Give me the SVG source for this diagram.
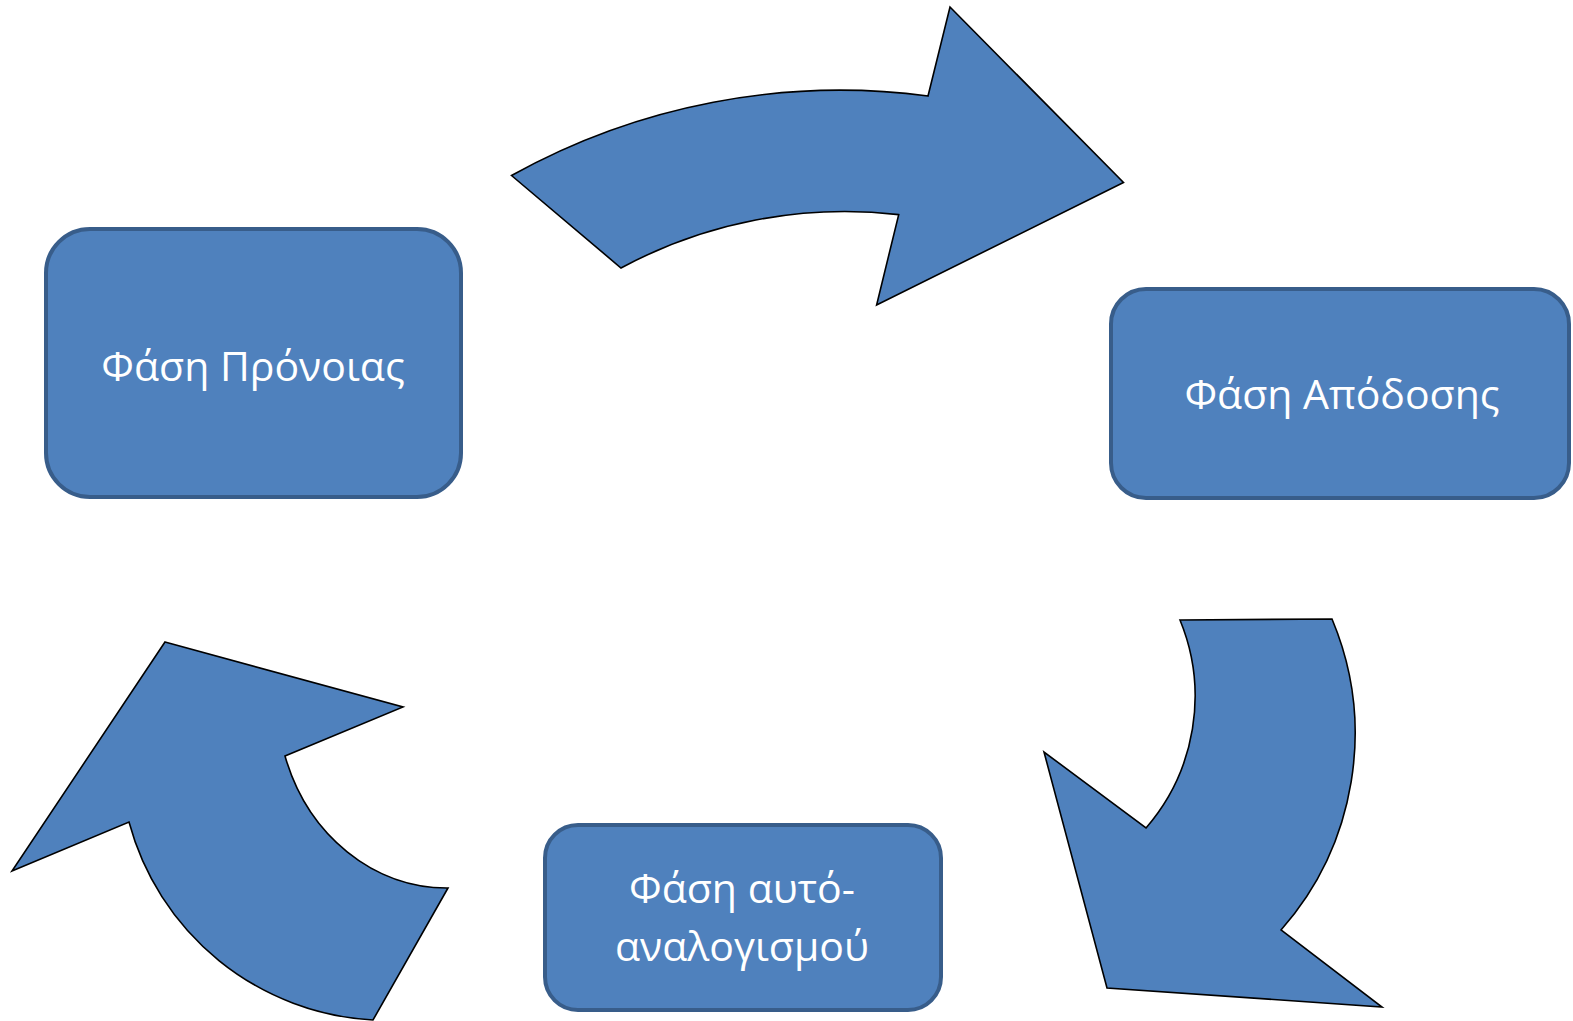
<svg xmlns="http://www.w3.org/2000/svg" width="1573" height="1021" viewBox="0 0 1573 1021">
<style>
.box{fill:#4F81BD;stroke:#385D8A;stroke-width:4}
.arr{fill:#4F81BD;stroke:#000;stroke-width:1.6;stroke-linejoin:miter}
.lbl{fill:#fff;font-family:"Open Sans","Noto Sans","DejaVu Sans",sans-serif;font-size:41px;text-anchor:middle}
</style>
<rect width="1573" height="1021" fill="#fff"/>
<g id="connectors">
<path id="arrow-top" class="arr" d="M511.5,175.5 A675,675 0 0 1 928,96 L950,7 L1123.5,182.5 L876.6,305 L898.7,214.6 A472,472 0 0 0 621,268 Z"/>
<path id="arrow-right" class="arr" d="M1180,620 L1332,619 A297,297 0 0 1 1281,930 L1382,1007 L1107,988 L1044,752 L1146,828 A201,201 0 0 0 1180,620 Z"/>
<path id="arrow-left" class="arr" d="M165,642 L403,707 L285,756 A170,190 0 0 0 448,888 L373,1020 A268,268 0 0 1 129,822 L12,871 Z"/>
</g>
<g id="node-pronoia">
<rect class="box" x="46" y="229" width="415" height="268" rx="44" ry="44"/>
<text class="lbl" x="253" y="381">Φάση Πρόνοιας</text>
</g>
<g id="node-apodosi">
<rect class="box" x="1111" y="289" width="458" height="209" rx="35" ry="35"/>
<text class="lbl" x="1342" y="409">Φάση Απόδοσης</text>
</g>
<g id="node-autoanalogismos">
<rect class="box" x="545" y="825" width="396" height="185" rx="33" ry="33"/>
<text class="lbl" x="742" y="903">Φάση αυτό-</text>
<text class="lbl" x="742" y="961">αναλογισμού</text>
</g>
</svg>
